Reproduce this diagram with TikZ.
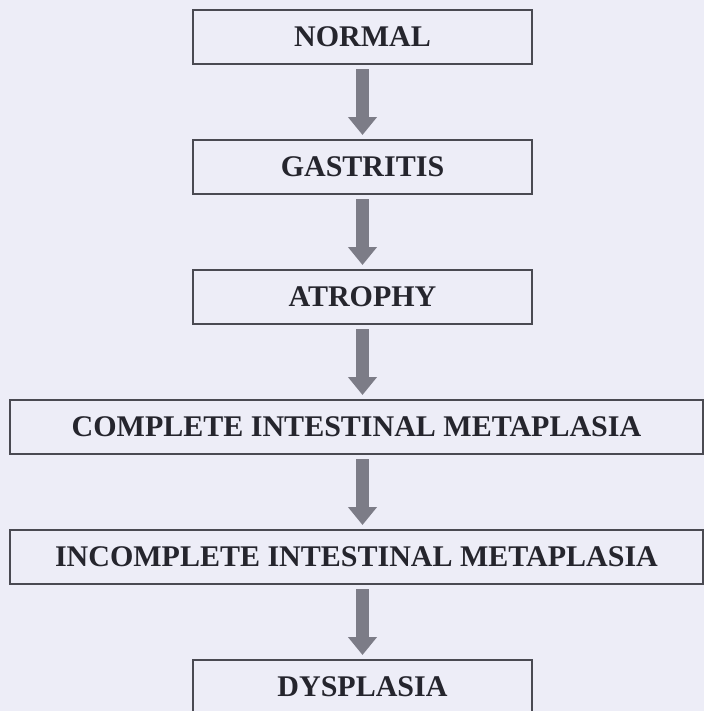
\documentclass[tikz,border=0pt]{standalone}
\usepackage{fontspec}
\setmainfont{Liberation Serif}
\usetikzlibrary{arrows.meta, positioning}

\definecolor{pagebg}{HTML}{EDEDF7}
\definecolor{boxline}{HTML}{4A4A52}
\definecolor{arrowgray}{HTML}{7C7C87}
\definecolor{labeltext}{HTML}{25252D}

\begin{document}
\begin{tikzpicture}[
x=0.75pt, y=-0.75pt,
node distance=57pt,
box/.style={rectangle, draw=boxline, line width=1.5pt, text=labeltext, font=\fontsize{22.5}{27}\selectfont\bfseries, align=center, minimum width=254pt, minimum height=40.5pt, inner sep=0pt, outer sep=0pt},
widebox/.style={box, minimum width=519.75pt},
line/.style={-{Triangle[width=21pt, length=13.5pt]}, line width=10pt, draw=arrowgray, shorten <=3.75pt, shorten >=3.75pt}
]
\fill[pagebg] (0,0) rectangle (704,711);
\useasboundingbox (0,0) rectangle (704,711);

\node[box] (normal) at (362.5,37) {NORMAL};
\node[box, below=of normal] (gastritis) {GASTRITIS};
\node[box, below=of gastritis] (atrophy) {ATROPHY};
\node[widebox, below=of atrophy, xshift=-4.5pt] (complete) {COMPLETE INTESTINAL METAPLASIA};
\node[widebox, below=of complete] (incomplete) {INCOMPLETE INTESTINAL METAPLASIA};
\node[box, below=of incomplete, xshift=4.5pt] (dysplasia) {DYSPLASIA};

\draw[line] (normal.south) -- (normal.south |- gastritis.north);
\draw[line] (gastritis.south) -- (gastritis.south |- atrophy.north);
\draw[line] (atrophy.south) -- (atrophy.south |- complete.north);
\draw[line] (atrophy.south |- complete.south) -- (atrophy.south |- incomplete.north);
\draw[line] (dysplasia.north |- incomplete.south) -- (dysplasia.north);
\end{tikzpicture}
\end{document}
